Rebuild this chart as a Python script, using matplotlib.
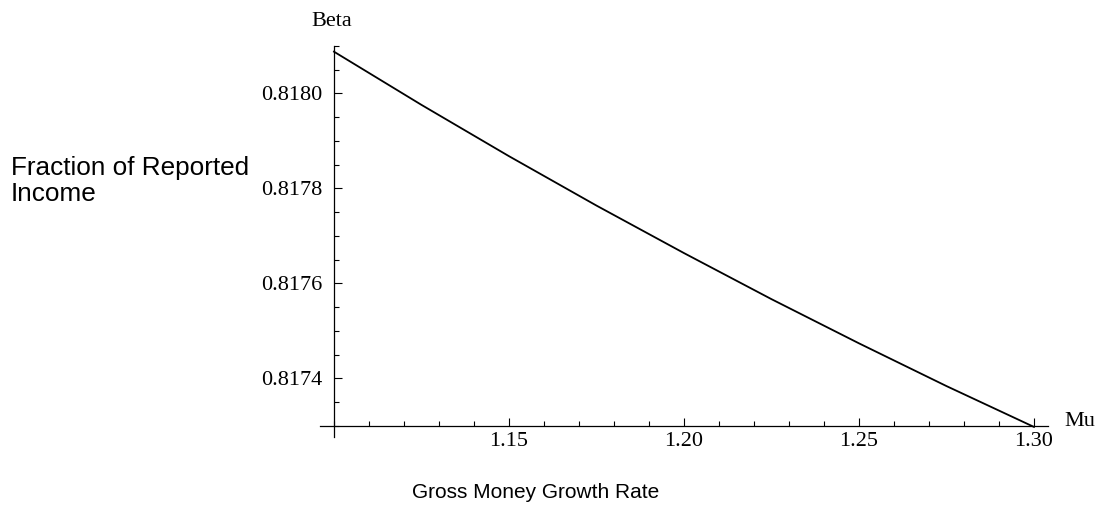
import numpy as np
import matplotlib
matplotlib.use("Agg")
import matplotlib.pyplot as plt
from matplotlib.ticker import MultipleLocator, FormatStrFormatter

# money growth rate vs. fraction of reported income
mu = [1.10, 1.125, 1.15, 1.175, 1.20, 1.225, 1.25, 1.275, 1.30]
beta = [0.818088, 0.817976, 0.817868, 0.817764, 0.817664,
        0.817567, 0.817474, 0.817384, 0.817298]

x_major = [1.15, 1.20, 1.25, 1.30]
y_major = [0.8174, 0.8176, 0.8178, 0.8180]

serif = ["Liberation Serif", "DejaVu Serif"]
sans = ["Liberation Sans", "DejaVu Sans"]

fig = plt.figure(figsize=(11.08, 5.09), dpi=100)
ax = fig.add_axes([0.3014, 0.1631, 0.6318, 0.7466])

ax.plot(mu, beta, color="black", lw=1.3, clip_on=False)

ax.set_xlim(1.10, 1.30)
ax.set_ylim(0.81730, 0.81810)

# axes drawn by hand so they cross and overshoot a little
for s in ax.spines.values():
    s.set_visible(False)
ax.plot([1.096, 1.304], [0.81730, 0.81730], color="black", lw=0.9, clip_on=False)
ax.plot([1.10, 1.10], [0.817277, 0.81810], color="black", lw=0.9, clip_on=False)

ax.set_xticks(x_major)
ax.set_yticks(y_major)
ax.xaxis.set_minor_locator(MultipleLocator(0.01))
ax.yaxis.set_minor_locator(MultipleLocator(0.00005))
ax.xaxis.set_major_formatter(FormatStrFormatter("%.2f"))
ax.yaxis.set_major_formatter(FormatStrFormatter("%.4f"))
ax.tick_params(which="major", direction="in", length=6, width=0.8, color="black")
ax.tick_params(which="minor", direction="in", length=3.5, width=0.8, color="black")
ax.tick_params(axis="x", which="major", pad=4)
ax.tick_params(axis="y", which="major", pad=8)
for lab in ax.get_xticklabels() + ax.get_yticklabels():
    lab.set_family(serif)
    lab.set_fontsize(16)

fig.text(332 / 1108, 1 - 21 / 509, "Beta", family=serif, fontsize=16,
         ha="center", va="center")
fig.text(1064 / 1108, 1 - 422 / 509, "Mu", family=serif, fontsize=16,
         ha="left", va="center")

fig.text(11 / 1108, 1 - 181 / 509, "Fraction of Reported\nIncome", family=sans,
         fontsize=18.8, ha="left", va="center", linespacing=1.08)
fig.text(536 / 1108, 1 - 492 / 509, "Gross Money Growth Rate", family=sans,
         fontsize=15, ha="center", va="center")

fig.savefig("out.png", dpi=100)
